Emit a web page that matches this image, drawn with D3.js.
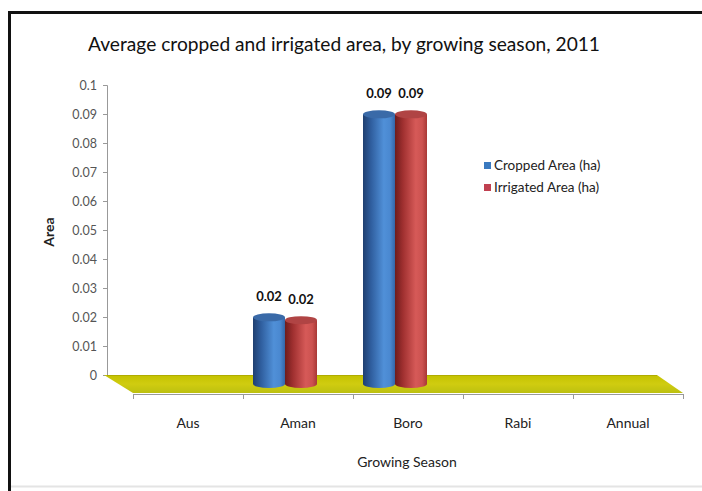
<!DOCTYPE html>
<html><head><meta charset="utf-8">
<script src="https://cdn.jsdelivr.net/npm/d3@7"></script>
<style>body{margin:0;background:#fff}svg{display:block}text{font-family:Lato,"Open Sans",sans-serif}</style>
</head><body><svg id="c" width="702" height="491"></svg>
<script>
const categories = ["Aus","Aman","Boro","Rabi","Annual"];
const seriesNames = ["Cropped Area (ha)","Irrigated Area (ha)"];
const croppedArea = [0, 0.023, 0.093, 0, 0];
const irrigatedArea = [0, 0.022, 0.093, 0, 0];
const yTicks = [0,0.01,0.02,0.03,0.04,0.05,0.06,0.07,0.08,0.09,0.1];
const yTickLabels = ["0","0.01","0.02","0.03","0.04","0.05","0.06","0.07","0.08","0.09","0.1"];
const titleText = "Average cropped and irrigated area, by growing season, 2011";

const svg = d3.select("#c");
const defs = svg.append("defs");
// frame
svg.append("rect").attr("x",0).attr("y",0).attr("width",702).attr("height",491).attr("fill","#fff");
svg.append("line").attr("x1",9.5).attr("x2",9.5).attr("y1",11).attr("y2",491).attr("stroke","#111").attr("stroke-width",3);
svg.append("line").attr("x1",8).attr("x2",702).attr("y1",12.5).attr("y2",12.5).attr("stroke","#111").attr("stroke-width",3);
svg.append("line").attr("x1",11).attr("x2",702).attr("y1",486.5).attr("y2",486.5).attr("stroke","#e4e4e4").attr("stroke-width",2);

svg.append("text").attr("x",344).attr("y",51).attr("text-anchor","middle")
  .attr("font-size",18.5).attr("fill","#111").attr("textLength",512).attr("lengthAdjust","spacingAndGlyphs").text(titleText);

const depth = {dx:26, dy:18};
const x = d3.scaleBand().domain(categories).range([107,657]).padding(0);
const x1 = d3.scaleBand().domain(seriesNames).range([-32,32]).padding(0);
const y = d3.scaleLinear().domain([0,0.1]).range([375,85]);

// y axis
const yAxis = d3.axisLeft(y).tickValues(yTicks).tickFormat((d,i)=>yTickLabels[i]).tickSize(4).tickPadding(6);
const ga = svg.append("g").attr("transform","translate(107,0)").call(yAxis);
ga.select(".domain").attr("stroke","#999");
ga.selectAll(".tick line").attr("stroke","#999");
ga.selectAll(".tick text").attr("fill","#555").attr("font-size",12.5);

svg.append("text").attr("transform","translate(54,232) rotate(-90)").attr("text-anchor","middle")
  .attr("font-size",14).attr("font-weight","bold").attr("fill","#222").text("Area");

// floor
const fg = defs.append("linearGradient").attr("id","floor").attr("x1",0).attr("x2",0).attr("y1",0).attr("y2",1);
fg.append("stop").attr("offset","0%").attr("stop-color","#c4c200");
fg.append("stop").attr("offset","50%").attr("stop-color","#d0cc10");
fg.append("stop").attr("offset","100%").attr("stop-color","#bcc010");
const x0 = x.range()[0], xN = x.range()[1], y0 = y(0);
svg.append("path").attr("d",`M${x0-3},${y0} L${xN},${y0} L${xN+depth.dx},${y0+depth.dy} L${x0+depth.dx},${y0+depth.dy} Z`)
  .attr("fill","url(#floor)");
svg.append("line").attr("x1",x0).attr("x2",xN).attr("y1",y0+0.5).attr("y2",y0+0.5).attr("stroke","#b0ac00").attr("stroke-width",1);
svg.append("line").attr("x1",x0+depth.dx).attr("x2",xN+depth.dx).attr("y1",y0+depth.dy+1.5).attr("y2",y0+depth.dy+1.5).attr("stroke","#999").attr("stroke-width",1);
const fticks = categories.map(c=>x(c)).concat([xN]);
svg.selectAll(".ft").data(fticks).enter().append("line")
  .attr("x1",d=>d+depth.dx+0.5).attr("x2",d=>d+depth.dx+0.5)
  .attr("y1",y0+depth.dy+1).attr("y2",y0+depth.dy+6).attr("stroke","#999");

// category labels
svg.selectAll(".cl").data(categories).enter().append("text")
  .attr("x",d=>x(d)+x.bandwidth()/2+depth.dx).attr("y",428).attr("text-anchor","middle")
  .attr("font-size",14).attr("fill","#222").text(d=>d);
svg.append("text").attr("x",407).attr("y",467).attr("text-anchor","middle")
  .attr("font-size",14).attr("fill","#222").text("Growing Season");

// gradients for cylinders
function cylGrad(id, stops){
  const g = defs.append("linearGradient").attr("id",id).attr("x1",0).attr("x2",1).attr("y1",0).attr("y2",0);
  stops.forEach(s=>g.append("stop").attr("offset",s[0]).attr("stop-color",s[1]));
}
cylGrad("blue",[["0%","#1f3f70"],["25%","#2f5e9e"],["65%","#5090d8"],["85%","#4a88d0"],["100%","#3566a8"]]);
cylGrad("red",[["0%","#6e1c1c"],["25%","#a03030"],["65%","#d65a58"],["85%","#cc5250"],["100%","#a83836"]]);
const topColors = ["#3a6aa8","#b04444"];
const grads = ["url(#blue)","url(#red)"];
const seriesData = [croppedArea, irrigatedArea];

const bars = [];
categories.forEach((c,i)=>{
  seriesNames.forEach((s,j)=>{
    const v = seriesData[j][i];
    if (v>0) bars.push({c, s, j, v});
  });
});
const ry = 4;
const gb = svg.append("g");
bars.forEach(b=>{
  const cx = x(b.c)+x.bandwidth()/2+depth.dx/2 + x1(b.s) + x1.bandwidth()/2;
  const w = x1.bandwidth();
  const base = y(0)+depth.dy/2;
  const top = y(b.v)+depth.dy/2;
  const g = gb.append("g");
  g.append("ellipse").attr("cx",cx).attr("cy",base).attr("rx",w/2).attr("ry",ry).attr("fill",grads[b.j]);
  g.append("rect").attr("x",cx-w/2).attr("y",top).attr("width",w).attr("height",base-top).attr("fill",grads[b.j]);
  g.append("ellipse").attr("cx",cx).attr("cy",top).attr("rx",w/2).attr("ry",ry).attr("fill",topColors[b.j]);
  svg.append("text").attr("x",cx).attr("y",top-16).attr("text-anchor","middle")
    .attr("font-size",13).attr("font-weight","bold").attr("fill","#111").text(d3.format(".2f")(b.v));
});

// legend
const lg = svg.append("g").attr("transform","translate(484,162)");
const legColors = ["#3a7ac0","#c04050"];
seriesNames.forEach((s,i)=>{
  lg.append("rect").attr("x",0).attr("y",i*22).attr("width",7).attr("height",7).attr("fill",legColors[i]);
  lg.append("text").attr("x",10).attr("y",i*22+8).attr("font-size",13.5).attr("fill","#222").text(s);
});
</script></body></html>
